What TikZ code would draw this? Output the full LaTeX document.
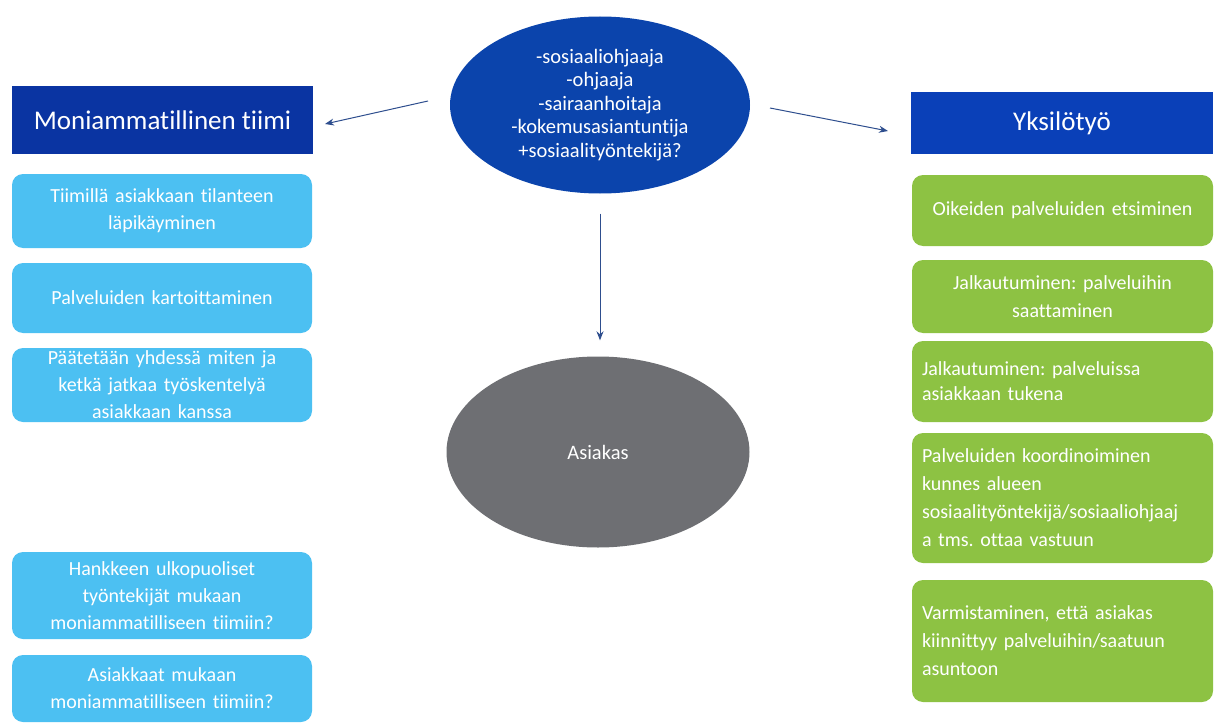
\documentclass[tikz,border=0pt]{standalone}
\usepackage{fontspec}
\setmainfont{Carlito}[Ligatures=NoCommon]
\usetikzlibrary{shapes.geometric,arrows.meta}
\frenchspacing
\definecolor{hdrL}{HTML}{0A34A2}
\definecolor{hdrR}{HTML}{0A40B8}
\definecolor{ellB}{HTML}{0B44AC}
\definecolor{lblue}{HTML}{4CC0F2}
\definecolor{lgreen}{HTML}{8DC243}
\definecolor{ellG}{HTML}{6E6F73}
\definecolor{arrC}{HTML}{2E4E8E}
\tikzset{
  hdr/.style={rectangle, inner sep=0pt, text=white, font=\fontsize{27}{32}\selectfont, minimum width=301pt},
  bbox/.style={rectangle, rounded corners=11pt, fill=lblue, text=white, inner sep=0pt,
    minimum width=300pt, text width=280pt, align=center, font=\fontsize{20}{27}\selectfont},
  gbox/.style={rectangle, rounded corners=11pt, fill=lgreen, text=white, inner sep=0pt,
    minimum width=301pt, text width=281pt, align=center, font=\fontsize{20}{28}\selectfont},
  gleft/.style={gbox, align=left},
  arr/.style={draw=arrC, line width=1pt, -{Stealth[length=9pt,width=7pt]}}
}
\begin{document}
\begin{tikzpicture}[x=1pt,y=-1pt]
\useasboundingbox[fill=white] (0,0) rectangle (1219,725);
% top ellipse
\node[ellipse, fill=ellB, text=white, inner sep=0pt, minimum width=300pt, minimum height=177pt,
  align=center, font=\fontsize{20.5}{23.5}\selectfont] (top) at (600,105)
  {-sosiaaliohjaaja\\-ohjaaja\\-sairaanhoitaja\\-kokemusasiantuntija\\+sosiaalityöntekijä?};
% client ellipse
\node[ellipse, fill=ellG, text=white, inner sep=0pt, minimum width=303pt, minimum height=191pt,
  font=\fontsize{20.5}{24}\selectfont] (asiakas) at (598,452) {Asiakas};
% headers
\node[hdr, fill=hdrL, minimum height=68pt] (hl) at (162.5,120) {Moniammatillinen tiimi};
\node[hdr, fill=hdrR, minimum width=302pt, minimum height=62pt] (hr) at (1062,123) {Yksilötyö};
% left boxes
\node[bbox, minimum height=74pt] (l1) at (162,211) {Tiimillä asiakkaan tilanteen\\läpikäyminen};
\node[bbox, minimum height=70pt] (l2) at (162,298) {Palveluiden kartoittaminen};
\node[bbox, minimum height=74pt] (l3) at (162,385) {Päätetään yhdessä miten ja\\ketkä jatkaa työskentelyä\\asiakkaan kanssa};
\node[bbox, minimum height=87pt] (l4) at (162,595.5) {Hankkeen ulkopuoliset\\työntekijät mukaan\\moniammatilliseen tiimiin?};
\node[bbox, minimum height=67pt] (l5) at (162,688.5) {Asiakkaat mukaan\\moniammatilliseen tiimiin?};
% right boxes
\node[gbox, minimum height=71pt] (r1) at (1062.5,210.5) {Oikeiden palveluiden etsiminen};
\node[gbox, minimum height=73pt] (r2) at (1062.5,296.5) {Jalkautuminen: palveluihin\\saattaminen};
\node[gleft, minimum height=81pt, font=\fontsize{20}{25}\selectfont] (r3) at (1062.5,381.5) {Jalkautuminen: palveluissa\\asiakkaan tukena};
\node[gleft, minimum height=130pt] (r4) at (1062.5,498) {Palveluiden koordinoiminen\\kunnes alueen\\sosiaalityöntekijä/sosiaaliohjaaj\\a tms. ottaa vastuun};
\node[gleft, minimum height=122pt] (r5) at (1062.5,641) {Varmistaminen, että asiakas\\kiinnittyy palveluihin/saatuun\\asuntoon};
% arrows
\coordinate (lA) at (428,101);
\coordinate (lB) at (325,124);
\coordinate (rA) at (770,108);
\coordinate (rB) at (888,131);
\draw[arr] (lA) -- (lB);
\draw[arr] (rA) -- (rB);
\draw[arr, shorten <=20pt, shorten >=16pt] (top.south) -- (top.south |- asiakas.north);
\end{tikzpicture}
\end{document}
